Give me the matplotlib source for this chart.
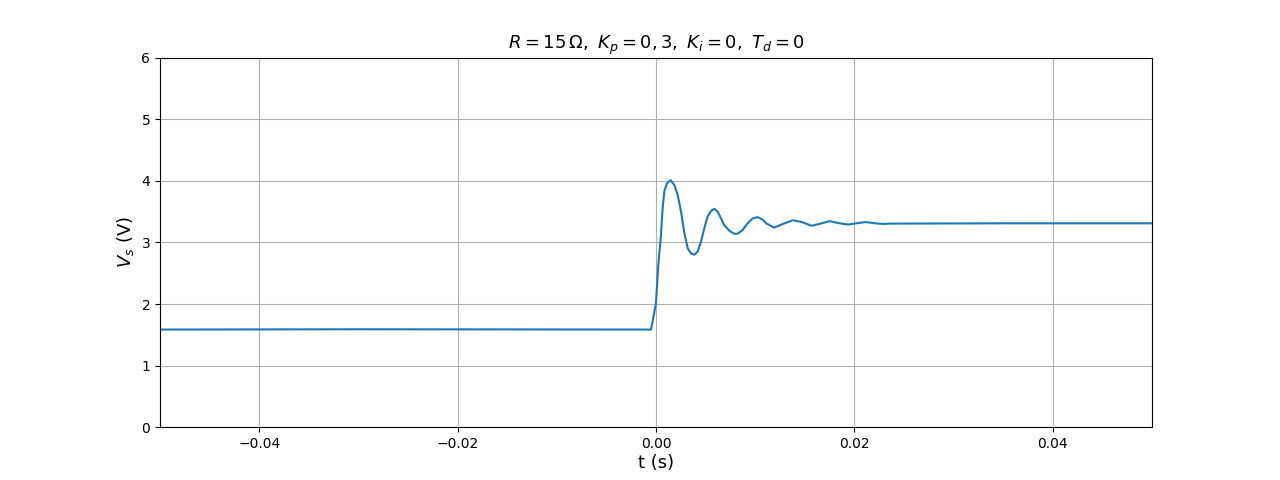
import numpy as np
import matplotlib
matplotlib.use('Agg')
import matplotlib.pyplot as plt

# step response (time in s, voltage in V)
t_before = [-0.05, -0.03, -0.0005, -0.0003, 0.0]
v_before = [1.585, 1.59, 1.585, 1.75, 2.02]

t_transient = [0.00023, 0.0005, 0.00067, 0.00084, 0.0011, 0.00148, 0.00185,
               0.00219, 0.00252, 0.00286, 0.0032, 0.00353, 0.00386, 0.0042,
               0.00453, 0.00487, 0.0052, 0.00554, 0.00588, 0.00621, 0.00655,
               0.00688, 0.00739, 0.00789, 0.00822, 0.00873, 0.00923, 0.00974,
               0.01024, 0.01075]
v_transient = [2.63, 3.12, 3.56, 3.83, 3.96, 4.01, 3.93,
               3.77, 3.50, 3.15, 2.905, 2.82, 2.80, 2.85,
               3.01, 3.23, 3.42, 3.51, 3.545, 3.50, 3.39,
               3.28, 3.19, 3.14, 3.14, 3.20, 3.31, 3.39,
               3.41, 3.37]

t_settle = [0.0111, 0.0119, 0.0128, 0.0138, 0.0147, 0.0157, 0.0167, 0.0175,
            0.0185, 0.0194, 0.0202, 0.0211, 0.0221, 0.0229, 0.0236, 0.035, 0.05]
v_settle = [3.31, 3.24, 3.30, 3.36, 3.33, 3.27, 3.31, 3.345,
            3.31, 3.29, 3.31, 3.33, 3.31, 3.30, 3.305, 3.31, 3.31]

t = np.array(t_before + t_transient + t_settle)
v = np.array(v_before + v_transient + v_settle)

fig, ax = plt.subplots(figsize=(12.8, 4.8), dpi=100)
ax.plot(t, v, color='tab:blue')

ax.set_xlim(-0.05, 0.05)
ax.set_ylim(0, 6)
ax.grid(True)
ax.set_title(r'$R = 15\,\Omega,\ K_p = 0,3,\ K_i = 0,\ T_d = 0$', fontsize=13)
ax.set_xlabel('t (s)', fontsize=13, labelpad=2)
ax.set_ylabel(r'$V_s$ (V)', fontsize=13)

plt.savefig('out.png')
